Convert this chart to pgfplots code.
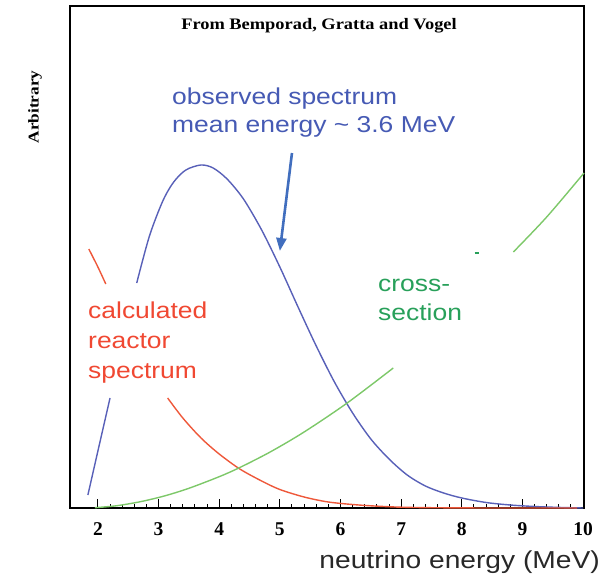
\documentclass[border=0pt]{standalone}
\usepackage{fontspec}
\setmainfont{Liberation Sans}
\newfontfamily\annot[FakeStretch=1.15]{Liberation Sans}
\newfontfamily\serifx[FakeStretch=1.15]{Liberation Serif}
\newfontfamily\serifn{Liberation Serif}
\usepackage{pgfplots}
\pgfplotsset{compat=1.18}
\usetikzlibrary{arrows.meta}
\definecolor{bline}{RGB}{88,96,184}
\definecolor{rline}{RGB}{238,88,58}
\definecolor{gline}{RGB}{125,200,105}
\definecolor{gtext}{RGB}{40,160,90}
\definecolor{btext}{RGB}{70,90,180}
\definecolor{rtext}{RGB}{240,72,50}
\definecolor{arrowc}{RGB}{65,110,190}
\definecolor{labc}{RGB}{40,40,40}
\begin{document}
\begin{tikzpicture}
\useasboundingbox (-70pt,-68pt) rectangle (537pt,508pt);
\begin{axis}[
  at={(0pt,0pt)}, anchor=south west,
  scale only axis, width=514pt, height=502pt,
  xmin=1.54, xmax=10.015, ymin=0, ymax=502,
  axis line style={line width=1.4pt, black},
  xtick={2,3,...,10}, minor x tick num=4,
  ytick=\empty,
  xtick pos=lower, tick align=inside,
  major tick length=9pt, minor tick length=4.5pt,
  every tick/.style={black, line width=1pt},
  xticklabel style={font=\fontsize{19.5}{19.5}\selectfont\serifn\bfseries, anchor=north, yshift=-11pt},
  /pgf/number format/assume math mode=true,
  clip=false,
]
% observed spectrum (blue)
\addplot[bline, line width=1.4pt, smooth] coordinates {
 (1.835,13) (2.0,57) (2.20,110)};
\addplot[bline, line width=1.4pt, smooth] coordinates {
 (2.64,225) (2.85,272) (3.07,307) (3.25,326) (3.45,338) (3.70,343) (3.90,340)
 (4.13,329) (4.40,309) (4.70,278) (5.00,241) (5.30,201) (5.60,162) (5.90,126)
 (6.20,95) (6.50,69) (6.80,49) (7.10,33) (7.40,22) (7.70,15) (8.00,10)
 (8.40,5.5) (8.80,3) (9.20,1.5) (9.60,0.6) (10.0,0)};
% calculated reactor spectrum (red)
\addplot[rline, line width=1.4pt, smooth] coordinates {
 (1.85,259) (2.0,241) (2.13,224)};
\addplot[rline, line width=1.4pt, smooth] coordinates {
 (3.15,110) (3.40,90) (3.70,70) (4.00,54) (4.34,39) (4.70,27) (5.00,18.5)
 (5.40,11) (5.80,6) (6.30,3) (6.90,1) (7.50,0.3) (8.50,0) (9.90,0)};
% cross-section (green)
\addplot[gline, line width=1.4pt, smooth] coordinates {
 (1.95,0.3) (2.30,2.2) (2.70,6.3) (3.10,12.1) (3.50,19.7) (4.00,31.3) (4.34,40.5)
 (4.84,56) (5.40,76) (6.11,105) (6.87,140)};
\addplot[gline, line width=1.4pt, smooth] coordinates {
 (8.85,256) (9.40,291) (10.015,335)};
\addplot[gtext, line width=1.6pt] coordinates {(8.21,255) (8.29,255)};
% arrow
\draw[-{Triangle[length=13pt,width=10pt]}, line width=2.6pt, arrowc] (axis cs:5.20,355) -- (axis cs:5.0,257);
\end{axis}
% texts
\node[anchor=base, font=\fontsize{16}{16}\selectfont\serifx\bfseries] at (249pt,478pt) {From Bemporad, Gratta and Vogel};
\node[rotate=90, font=\fontsize{15}{15}\selectfont\serifx\bfseries] at (-35pt,401pt) {Arbitrary};
\node[anchor=base west, inner sep=0pt, text=btext, font=\fontsize{23}{23}\selectfont\annot] at (102pt,403pt) {observed spectrum};
\node[anchor=base west, inner sep=0pt, text=btext, font=\fontsize{23}{23}\selectfont\annot] at (102pt,375pt) {mean energy \char"007E{} 3.6 MeV};
\node[anchor=base west, inner sep=0pt, text=rtext, font=\fontsize{23}{23}\selectfont\annot] at (18pt,190pt) {calculated};
\node[anchor=base west, inner sep=0pt, text=rtext, font=\fontsize{23}{23}\selectfont\annot] at (18pt,160pt) {reactor};
\node[anchor=base west, inner sep=0pt, text=rtext, font=\fontsize{23}{23}\selectfont\annot] at (18pt,130pt) {spectrum};
\node[anchor=base west, inner sep=0pt, text=gtext, font=\fontsize{23}{23}\selectfont\annot] at (308pt,216pt) {cross-};
\node[anchor=base west, inner sep=0pt, text=gtext, font=\fontsize{23}{23}\selectfont\annot] at (308pt,188pt) {section};
\node[anchor=base east, inner sep=0pt, text=labc, font=\fontsize{24.5}{24.5}\selectfont\annot] at (530pt,-60pt) {neutrino energy (MeV)};
\end{tikzpicture}
\end{document}
